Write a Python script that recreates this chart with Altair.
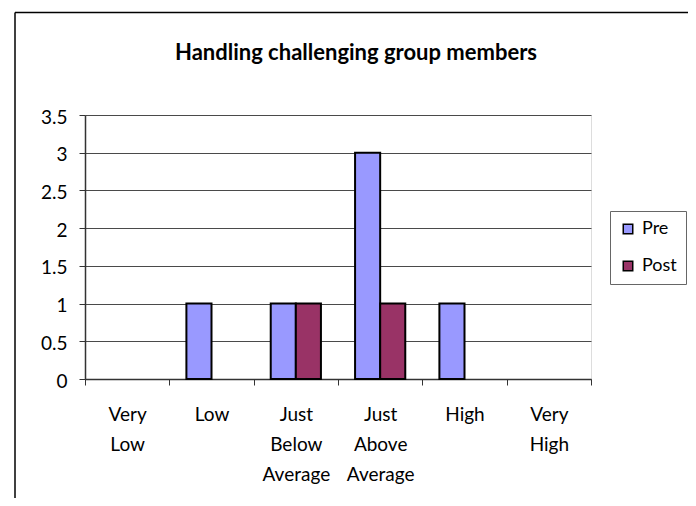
import altair as alt
import pandas as pd

categories = ["Very Low", "Low", "Just Below Average", "Just Above Average", "High", "Very High"]
series = ["Pre", "Post"]
pre_values = [0, 1, 1, 3, 1, 0]
post_values = [0, 0, 1, 1, 0, 0]
y_ticks = [0, 0.5, 1, 1.5, 2, 2.5, 3, 3.5]
colors = ["#9999FF", "#993366"]

rows = []
for c, p, q in zip(categories, pre_values, post_values):
    rows.append({"category": c, "series": "Pre", "value": p})
    rows.append({"category": c, "series": "Post", "value": q})
df = pd.DataFrame(rows)

FONT = "Lato"

bars = alt.Chart(df).transform_filter("datum.value > 0").mark_bar(
    stroke="black", strokeWidth=2
).encode(
    x=alt.X("category:N", sort=categories,
            scale=alt.Scale(domain=categories, paddingInner=0, paddingOuter=0),
            axis=alt.Axis(title=None, labelAngle=0, tickBand="extent",
                          labelExpr="split(datum.label, ' ')",
                          labelFont=FONT, labelFontSize=19, labelColor="black",
                          labelLineHeight=30, labelPadding=20,
                          tickSize=6, tickColor="#333333", domainColor="#333333",
                          domainWidth=1.5, grid=False)),
    xOffset=alt.XOffset("series:N", sort=series,
                        scale=alt.Scale(domain=series, paddingInner=0, paddingOuter=0.68)),
    y=alt.Y("value:Q", scale=alt.Scale(domain=[0, 3.5], nice=False),
            axis=alt.Axis(title=None, values=y_ticks, format="~g",
                          labelFont=FONT, labelFontSize=19, labelColor="black",
                          labelPadding=12, labelOffset=2, tickSize=6, tickColor="#333333",
                          domainColor="#333333", domainWidth=1.5,
                          grid=True, gridColor="#4a4a4a", gridWidth=1)),
    color=alt.Color("series:N", sort=series,
                    scale=alt.Scale(domain=series, range=colors),
                    legend=alt.Legend(title=None, orient="none", legendX=525, legendY=96,
                                      padding=9, fillColor="white", strokeColor="#666666",
                                      labelFont=FONT, labelFontSize=18, labelColor="black",
                                      labelOffset=5, rowPadding=19,
                                      symbolType="square", symbolSize=90,
                                      symbolStrokeColor="black", symbolStrokeWidth=1.5)),
)

frame_df = pd.DataFrame({"k": [0]})
frame_left = alt.Chart(frame_df).mark_rule(color="black", strokeWidth=1.5).encode(
    x=alt.value(-70), y=alt.value(-102.5), y2=alt.value(420)
)
frame_top = alt.Chart(frame_df).mark_rule(color="black", strokeWidth=1.5).encode(
    x=alt.value(-70), x2=alt.value(640), y=alt.value(-102.5)
)

chart = alt.layer(frame_left, frame_top, bars).properties(
    width=506, height=264,
    autosize="none",
    padding={"left": 77, "top": 107, "right": 97, "bottom": 119},
    title=alt.Title("Handling challenging group members", font=FONT, fontSize=22,
                    fontWeight="bold", color="black", frame="group", anchor="middle",
                    dx=18, baseline="alphabetic", offset=-70),
).configure_view(
    fill="#C0C0C0", stroke="#808080", strokeWidth=1.5
).configure(background="white")

chart.save("out.html", embed_options={"renderer": "svg", "actions": False})
